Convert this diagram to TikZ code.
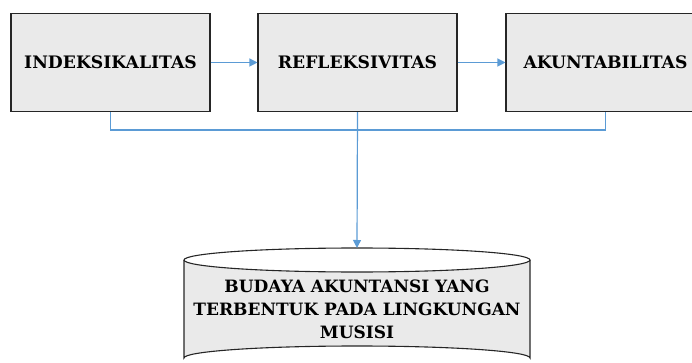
\documentclass[tikz,border=0pt]{standalone}
\usepackage{fontspec}
\setmainfont{DejaVu Serif}
\usetikzlibrary{arrows.meta}
\definecolor{conn}{RGB}{91,155,213}
\definecolor{boxfill}{RGB}{234,234,234}
\tikzset{
  stepbox/.style={draw=black!85, line width=1.1pt, fill=boxfill, minimum width=199pt, minimum height=98pt, inner sep=0pt,
    font=\fontsize{17.2}{20}\selectfont\bfseries},
  conn/.style={draw=conn, line width=1.2pt},
  connarrow/.style={conn, -{Triangle[length=8pt,width=8pt]}},
  cyltext/.style={align=center, font=\fontsize{17}{23}\selectfont\bfseries}
}
\begin{document}
\begin{tikzpicture}[x=1pt,y=-1pt]
\useasboundingbox (0,0) rectangle (692,363);
\clip (0,0) rectangle (692,363);
% boxes
\node[stepbox] (b1) at (110.5,62.5) {INDEKSIKALITAS};
\node[stepbox] (b2) at (357.5,62.5) {REFLEKSIVITAS};
\node[stepbox] (b3) at (605.5,62.5) {AKUNTABILITAS};
% cylinder
\fill[boxfill] (184,260) -- (184,358) arc[start angle=180,end angle=360,x radius=173,y radius=12] -- (530,260) arc[start angle=0,end angle=180,x radius=173,y radius=12] -- cycle;
\draw[black!85, line width=1.1pt] (184,260) -- (184,358) arc[start angle=180,end angle=360,x radius=173,y radius=12] -- (530,260);
\draw[black!85, line width=1.1pt] (357,260) ellipse[x radius=173,y radius=12];
\coordinate (cyltop) at (357,248);
\node[cyltext] (cyl) at (357,309) {BUDAYA AKUNTANSI YANG\\TERBENTUK PADA LINGKUNGAN\\MUSISI};
% connectors
\draw[connarrow] (b1.east) -- (b2.west);
\draw[connarrow] (b2.east) -- (b3.west);
\coordinate (j) at (357.5,130);
\draw[conn] (b1.south) -- (b1.south |- j) -- (b3.south |- j) -- (b3.south);
\draw[connarrow] (b2.south) -- (cyltop);
\end{tikzpicture}
\end{document}
